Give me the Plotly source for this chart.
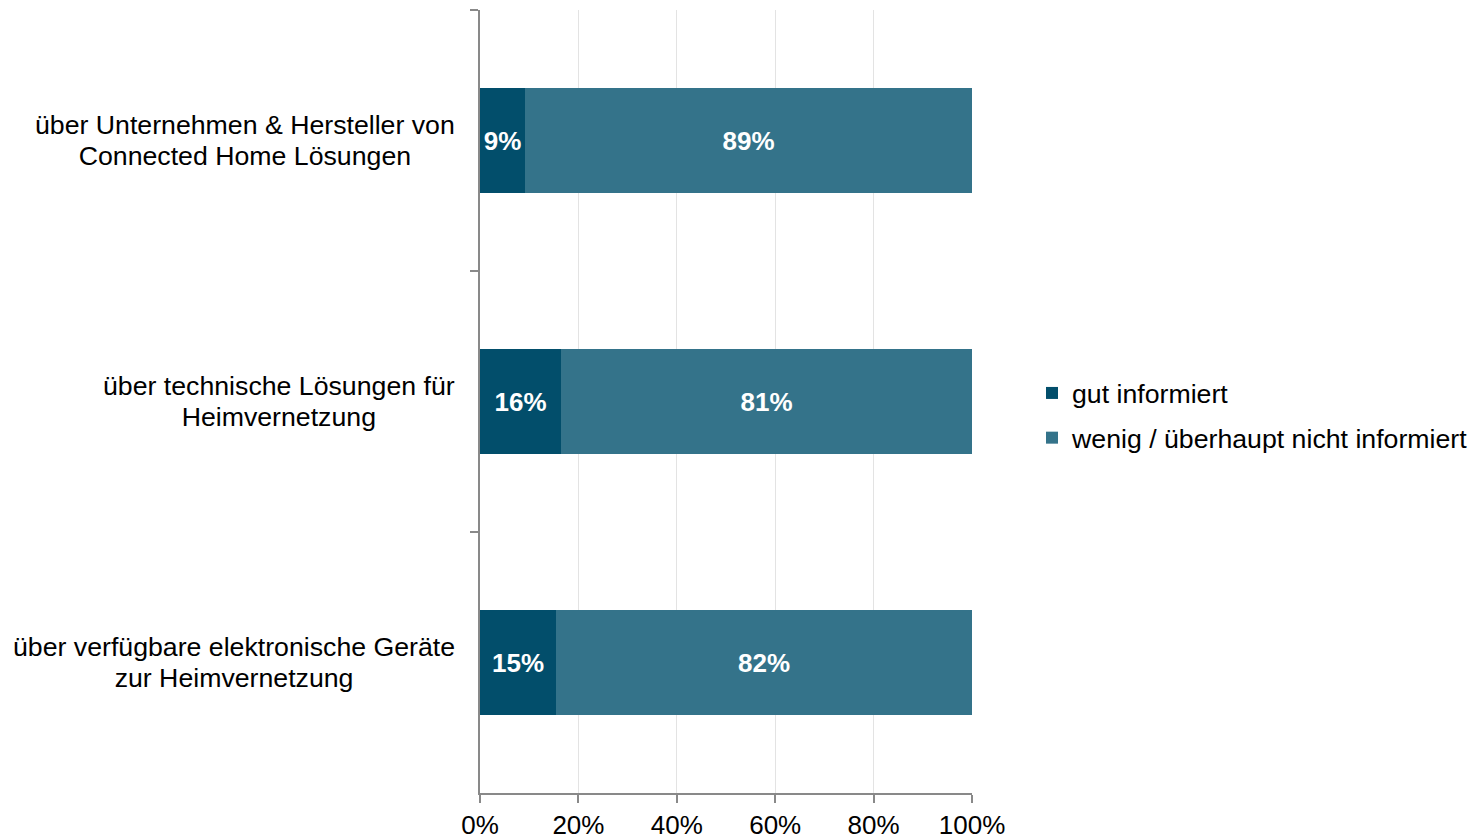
import plotly.graph_objects as go

categories = [
    "über Unternehmen & Hersteller von<br>Connected Home Lösungen",
    "über technische Lösungen für<br>Heimvernetzung",
    "über verfügbare elektronische Geräte<br>zur Heimvernetzung",
]
gut = [9, 16, 15]
wenig = [89, 81, 82]
series_names = ["gut informiert", "wenig / überhaupt nicht informiert"]
colors = ["#024E6B", "#34738A"]

FONT = "Liberation Sans, Arial, sans-serif"
FS = 26
FS_LBL = 26.7

fig = go.Figure()
for name, vals, col in zip(series_names, [gut, wenig], colors):
    fig.add_trace(go.Bar(
        y=categories, x=vals, orientation="h", name=name,
        marker=dict(color=col, line=dict(width=0)),
        text=[f"{v}%" for v in vals], textposition="inside",
        insidetextanchor="middle", textangle=0, constraintext="none",
        textfont=dict(color="white", size=FS, family=FONT, weight="bold"),
        legendgroup=name,
    ))

for c in categories:
    lines = c.split("<br>")
    txt = "<br>".join(f"<span style='font-size:{FS_LBL}px'>{ln}</span>" for ln in lines)
    fig.add_annotation(
        x=0, xref="paper", y=c, yref="y", text=txt, showarrow=False,
        xanchor="right", align="center", xshift=-23,
        font=dict(size=24, family=FONT, color="#000000"),
    )

fig.update_layout(
    width=1470, height=838,
    margin=dict(l=480, r=498, t=10, b=45, autoexpand=False),
    barmode="stack", barnorm="percent", bargap=0.6,
    plot_bgcolor="white", paper_bgcolor="white",
    font=dict(family=FONT, size=FS, color="#000000"),
    showlegend=True,
    legend=dict(x=1.122, xanchor="left", y=0.482, yanchor="middle",
                traceorder="grouped", tracegroupgap=7,
                font=dict(size=FS_LBL, family=FONT, color="#000000")),
    uniformtext=dict(mode=False),
)
fig.update_xaxes(
    range=[0, 100], dtick=20, ticksuffix="%", showgrid=True,
    gridcolor="#E3E3E3", gridwidth=1, showline=True, linecolor="#898989",
    linewidth=2, ticks="outside", ticklen=8, tickcolor="#898989", tickwidth=2,
    zeroline=False, automargin=False,
    tickfont=dict(size=FS, family=FONT, color="#000000"),
)
fig.update_yaxes(
    autorange="reversed", showticklabels=False, tickson="boundaries",
    ticks="outside", ticklen=8, tickcolor="#898989", tickwidth=2,
    showline=True, linecolor="#898989", linewidth=2, showgrid=False,
    automargin=False,
)

fig.write_html(
    "out.html",
    config={"displayModeBar": False},
    post_script="document.body.style.margin='0';document.body.style.overflow='hidden';",
)
